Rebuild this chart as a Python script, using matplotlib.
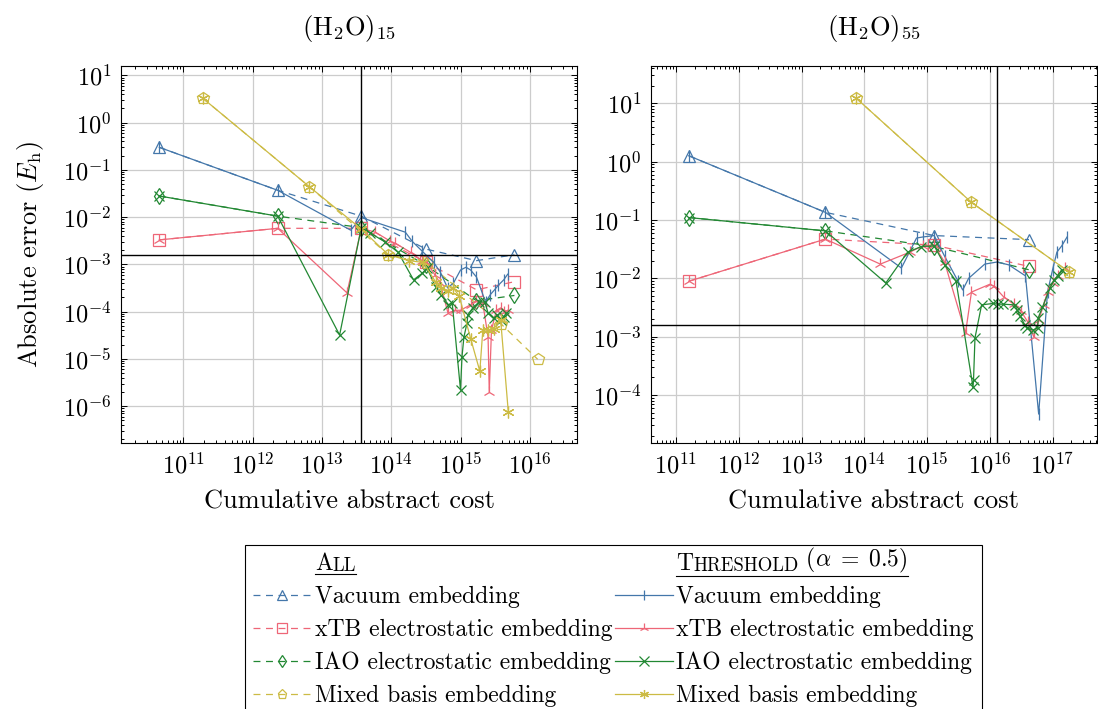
import numpy as np
import matplotlib
matplotlib.use('Agg')
import matplotlib.pyplot as plt
from matplotlib.lines import Line2D
from matplotlib.text import Annotation
from matplotlib.ticker import LogLocator, NullFormatter, FixedLocator

plt.rcParams.update({
    'font.family': 'serif',
    'font.serif': ['cmr10'],
    'mathtext.fontset': 'cm',
    'axes.formatter.use_mathtext': True,
    'axes.unicode_minus': False,
    'lines.scale_dashes': False,
})

# ---- (H2O)15 ----
L_all_x = [4.5e10, 2.3e12, 3.7e13, 3.2e14, 1.7e15, 6.0e15]
L_vac_all = [0.30, 0.037, 0.0105, 2.1e-3, 1.2e-3, 1.6e-3]
L_xtb_all = [3.3e-3, 5.8e-3, 5.8e-3, 1.1e-3, 2.9e-4, 4.3e-4]
L_iao_all = [0.028, 0.0105, 6.0e-3, 9.5e-4, 1.7e-4, 2.2e-4]
L_mix_all_x = [1.9e11, 6.6e12, 9.1e13, 3.3e14, 3.8e15, 1.3e16]
L_mix_all = [3.3, 0.044, 1.6e-3, 1.07e-3, 5.6e-5, 9.8e-6]

L_vac_thr_x = [4.5e10, 2.3e12, 2.6e13, 3.7e13, 1.6e14, 2.0e14, 2.8e14, 4.1e14, 5.1e14, 6.5e14,
               7.9e14, 1.0e15, 1.2e15, 1.4e15, 1.7e15, 2.3e15, 2.7e15, 3.1e15, 3.5e15, 4.2e15, 4.8e15]
L_vac_thr = [0.30, 0.037, 5.3e-3, 9.8e-3, 4.8e-3, 3.1e-3, 1.9e-3, 1.1e-3, 6.9e-4, 3.2e-4,
             4.0e-4, 7.6e-4, 8.7e-4, 7.6e-4, 5.4e-4, 1.6e-4, 2.3e-4, 2.9e-4, 3.6e-4, 4.7e-4, 6.2e-4]
L_xtb_thr_x = [4.5e10, 2.3e12, 2.3e13, 3.7e13, 5.9e13, 9.7e13, 1.15e14, 1.9e14, 2.8e14, 3.3e14,
               4.3e14, 5.1e14, 6.6e14, 8.3e14, 1.0e15, 1.4e15, 1.7e15, 2.1e15, 2.5e15, 2.6e15,
               2.8e15, 3.3e15, 3.8e15, 4.3e15, 4.8e15]
L_xtb_thr = [3.3e-3, 5.8e-3, 2.5e-4, 5.8e-3, 4.8e-3, 3.1e-3, 2.8e-3, 1.8e-3, 1.2e-3, 1.07e-3,
             5.9e-4, 4.0e-4, 9.3e-5, 1.07e-4, 1.07e-4, 1.4e-4, 1.7e-4, 1.5e-4, 2.9e-5, 2.0e-6,
             4.1e-5, 1.07e-4, 1.2e-4, 9.8e-5, 1.07e-4]
L_iao_thr_x = [4.5e10, 2.3e12, 1.8e13, 3.7e13, 5.0e13, 8.1e13, 1.26e14, 2.1e14, 2.8e14, 3.3e14,
               4.4e14, 5.3e14, 6.7e14, 7.6e14, 1.0e15, 1.05e15, 1.12e15, 1.24e15, 1.28e15, 1.5e15,
               1.85e15, 2.25e15, 2.5e15, 3.0e15, 3.4e15, 3.8e15, 4.2e15, 4.6e15]
L_iao_thr = [0.028, 0.0105, 3.2e-5, 6.0e-3, 4.6e-3, 3.0e-3, 1.8e-3, 4.7e-4, 6.5e-4, 8.3e-4,
             3.3e-4, 2.2e-4, 1.4e-4, 1.5e-4, 2.2e-6, 1.1e-5, 2.9e-5, 5.7e-5, 8.5e-5, 1.2e-4,
             1.6e-4, 1.6e-4, 9.3e-5, 7.3e-5, 8.5e-5, 6.6e-5, 7.6e-5, 9.3e-5]
L_mix_thr_x = [1.9e11, 6.6e12, 3.7e13, 9.1e13, 1.8e14, 2.9e14, 4.4e14, 5.3e14, 6.5e14, 7.9e14,
               9.6e14, 1.4e15, 1.9e15, 2.1e15, 2.5e15, 3.0e15, 3.8e15, 4.9e15]
L_mix_thr = [3.3, 0.044, 5.6e-3, 1.6e-3, 1.2e-3, 1.1e-3, 4.2e-4, 3.2e-4, 2.8e-4, 3.2e-4,
             2.1e-4, 2.7e-5, 5.5e-6, 4.1e-5, 4.1e-5, 4.3e-5, 6.6e-5, 7.4e-7]

# ---- (H2O)55 ----
R_all_x = [1.6e11, 2.4e13, 1.3e15, 4.2e16]
R_vac_all = [1.26, 0.135, 0.054, 0.046]
R_xtb_all = [8.9e-3, 0.047, 0.037, 0.016]
R_iao_all = [0.11, 0.065, 0.035, 0.014]
R_mix_x = [7.4e13, 5.1e15, 1.8e17]
R_mix_all = [12.3, 0.20, 0.013]
R_mix_thr = [12.3, 0.20, 0.013]

R_vac_thr_x = [1.6e11, 2.4e13, 3.9e14, 6.8e14, 8.5e14, 1.3e15, 1.9e15, 3.1e15, 3.7e15, 4.6e15,
               8.3e15, 1.3e16, 2.0e16, 3.7e16, 6.0e16, 8.3e16, 1.0e17, 1.17e17, 1.4e17, 1.7e17]
R_vac_thr = [1.26, 0.135, 0.015, 0.049, 0.051, 0.054, 0.024, 9.0e-3, 6.3e-3, 0.010,
             0.0175, 0.019, 0.017, 0.011, 4.7e-5, 5.8e-3, 0.014, 0.028, 0.036, 0.051]
R_xtb_thr_x = [1.6e11, 2.4e13, 1.8e14, 5.3e14, 8.5e14, 1.3e15, 1.9e15, 4.1e15, 5.1e15, 1.0e16,
               1.15e16, 1.66e16, 2.4e16, 3.1e16, 4.0e16, 5.0e16, 6.0e16, 7.2e16, 8.3e16, 1.0e17,
               1.2e17, 1.55e17]
R_xtb_thr = [8.9e-3, 0.047, 0.0175, 0.028, 0.036, 0.037, 0.019, 1.15e-3, 5.8e-3, 7.9e-3,
             7.4e-3, 4.8e-3, 3.6e-3, 2.8e-3, 1.8e-3, 1.0e-3, 1.9e-3, 3.5e-3, 5.8e-3, 8.3e-3,
             0.011, 0.015]
R_iao_thr_x = [1.6e11, 2.4e13, 2.2e14, 4.9e14, 8.1e14, 1.3e15, 1.9e15, 2.9e15, 5.4e15, 5.5e15,
               5.8e15, 7.4e15, 1.12e16, 1.35e16, 1.6e16, 2.5e16, 2.7e16, 3.0e16, 3.6e16, 3.9e16,
               4.9e16, 5.8e16, 5.9e16, 6.9e16, 9.1e16, 1.05e17, 1.2e17, 1.4e17]
R_iao_thr = [0.11, 0.065, 8.3e-3, 0.028, 0.035, 0.036, 0.017, 8.9e-3, 1.35e-4, 1.8e-4,
             9.5e-4, 3.5e-3, 3.7e-3, 3.6e-3, 3.6e-3, 3.5e-3, 2.9e-3, 2.3e-3, 1.6e-3, 1.4e-3,
             1.3e-3, 1.4e-3, 2.1e-3, 3.2e-3, 6.8e-3, 9.3e-3, 0.011, 0.014]

threshold_err = 1.6e-3
L_cost_line = 3.7e13
R_cost_line = 1.3e16

L_xticks = [1e11, 1e12, 1e13, 1e14, 1e15, 1e16]
L_yticks = [1e-6, 1e-5, 1e-4, 1e-3, 1e-2, 1e-1, 1e0, 1e1]
R_xticks = [1e11, 1e12, 1e13, 1e14, 1e15, 1e16, 1e17]
R_yticks = [1e-4, 1e-3, 1e-2, 1e-1, 1e0, 1e1]

labels = ['Vacuum embedding', 'xTB electrostatic embedding',
          'IAO electrostatic embedding', 'Mixed basis embedding']
colors = ['#4477AA', '#EE6677', '#228833', '#CCBB44']
all_markers = ['^', 's', 'd', 'p']
all_ms = [8.5, 8, 8.5, 9]
thr_markers = ['|', '2', 'x', (6, 2, 0)]
thr_ms = [8, 9, 6.5, 8.5]
dash = (0, (5, 4))
lw = 0.9

fig = plt.figure(figsize=(10.98, 7.09), dpi=100)
ax1 = fig.add_axes([121 / 1098, 1 - 443 / 709, 456 / 1098, 377 / 709])
ax2 = fig.add_axes([651 / 1098, 1 - 443 / 709, 446 / 1098, 377 / 709])

panels = [
    (ax1, r'$(\mathrm{H_2O})_{15}$',
     [(L_all_x, L_vac_all), (L_all_x, L_xtb_all), (L_all_x, L_iao_all), (L_mix_all_x, L_mix_all)],
     [(L_vac_thr_x, L_vac_thr), (L_xtb_thr_x, L_xtb_thr), (L_iao_thr_x, L_iao_thr), (L_mix_thr_x, L_mix_thr)],
     L_cost_line, (1.26e10, 4.8e16), (1.66e-7, 15.8), L_xticks, L_yticks),
    (ax2, r'$(\mathrm{H_2O})_{55}$',
     [(R_all_x, R_vac_all), (R_all_x, R_xtb_all), (R_all_x, R_iao_all), (R_mix_x, R_mix_all)],
     [(R_vac_thr_x, R_vac_thr), (R_xtb_thr_x, R_xtb_thr), (R_iao_thr_x, R_iao_thr), (R_mix_x, R_mix_thr)],
     R_cost_line, (4.0e10, 5.1e17), (1.5e-5, 43.6), R_xticks, R_yticks),
]

for ax, title, all_series, thr_series, vline, xlim, ylim, xt, yt in panels:
    for i, (xs, ys) in enumerate(all_series):
        ax.plot(xs, ys, ls=dash, lw=lw, color=colors[i], marker=all_markers[i],
                ms=all_ms[i], mfc='none', mew=0.9, zorder=3)
    for i, (xs, ys) in enumerate(thr_series):
        ax.plot(xs, ys, ls='-', lw=lw, color=colors[i], marker=thr_markers[i],
                ms=thr_ms[i], mew=0.9, zorder=4)
    ax.axhline(threshold_err, color='black', lw=1.0, zorder=5)
    ax.axvline(vline, color='black', lw=1.0, zorder=5)
    ax.set_xscale('log')
    ax.set_yscale('log')
    ax.xaxis.set_major_locator(FixedLocator(xt))
    ax.yaxis.set_major_locator(FixedLocator(yt))
    for axis in (ax.xaxis, ax.yaxis):
        axis.set_minor_locator(LogLocator(base=10, subs=np.arange(2, 10), numticks=300))
        axis.set_minor_formatter(NullFormatter())
    ax.set_xlim(*xlim)
    ax.set_ylim(*ylim)
    ax.grid(True, which='major', color='#cccccc', lw=0.9, zorder=0)
    ax.set_axisbelow(True)
    ax.tick_params(which='both', direction='in', top=True, right=True, labelsize=17.5,
                   pad=7, width=0.7)
    ax.tick_params(which='major', length=4.5)
    ax.tick_params(which='minor', length=2.5)
    for s in ax.spines.values():
        s.set_linewidth(0.8)
    ax.set_title(title, fontsize=19, pad=22)
    ax.set_xlabel('Cumulative abstract cost', fontsize=19, labelpad=8)

ax1.set_ylabel(r'Absolute error ($E_\mathrm{h}$)', fontsize=19, labelpad=12)

# legend
blank = Line2D([], [], color='none')
h_all = [Line2D([], [], ls=dash, lw=lw, color=c, marker=m, ms=6.5, mfc='none', mew=0.9)
         for c, m in zip(colors, all_markers)]
h_thr = [Line2D([], [], ls='-', lw=lw, color=c, marker=m, ms=6.5, mew=0.9)
         for c, m in zip(colors, thr_markers)]
handles = [blank] + h_all + [blank] + h_thr
leg_labels = ['A'] + labels + ['T'] + labels
leg = fig.legend(handles, leg_labels, loc='upper center', bbox_to_anchor=(613.5 / 1098, 1 - 545 / 709),
                 ncol=2, fontsize=17, handlelength=2.45, handletextpad=0.15, columnspacing=0.1,
                 labelspacing=0.45, borderpad=0.35, borderaxespad=0, fancybox=False, framealpha=1,
                 edgecolor='black')
leg.get_frame().set_linewidth(0.8)

texts = leg.get_texts()
hdr1, hdr2 = texts[0], texts[5]
sc1 = Annotation('LL', xy=(1, 0), xycoords=hdr1, va='bottom', ha='left', fontsize=13.5)
sc2 = Annotation('HRESHOLD', xy=(1, 0), xycoords=hdr2, va='bottom', ha='left', fontsize=13.5)
sc3 = Annotation(r' ($\alpha \;=\; 0.5$)', xy=(1, 0), xycoords=sc2, va='bottom', ha='left', fontsize=17)
for a in (sc1, sc2, sc3):
    a.set_zorder(10)
    fig.add_artist(a)

fig.canvas.draw()
r = fig.canvas.get_renderer()
inv = fig.transFigure.inverted()
b0 = hdr1.get_window_extent(r)
b1 = sc1.get_window_extent(r)
(x0, y0) = inv.transform((b0.x0, b0.y0 + 1))
(x1, _) = inv.transform((b1.x1, b0.y0 + 1))
fig.add_artist(Line2D([x0, x1], [y0, y0], color='black', lw=0.8,
                      transform=fig.transFigure, zorder=10))
b2 = hdr2.get_window_extent(r)
b3 = sc3.get_window_extent(r)
(x2, y2) = inv.transform((b2.x0, min(b2.y0, b3.y0) - 1))
(x3, _) = inv.transform((b3.x1, b2.y0))
fig.add_artist(Line2D([x2, x3], [y2, y2], color='black', lw=0.8,
                      transform=fig.transFigure, zorder=10))

fig.savefig('out.png', dpi=100)
